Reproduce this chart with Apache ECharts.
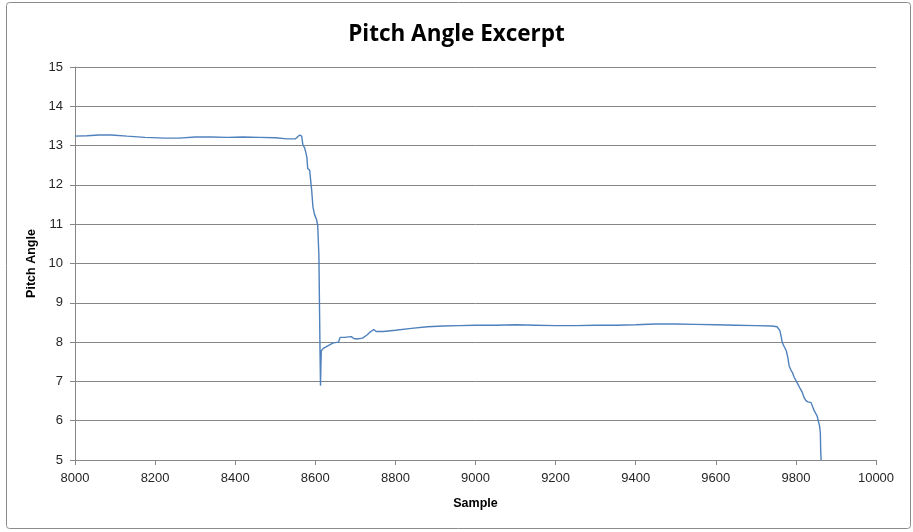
<!DOCTYPE html>
<html>
<head>
<meta charset="utf-8">
<script src="https://cdn.jsdelivr.net/npm/echarts@6/dist/echarts.min.js"></script>
<style>
  html, body { margin: 0; padding: 0; background: #fff; }
  #chart { width: 913px; height: 532px; }
</style>
</head>
<body>
<div id="chart"></div>
<script>
// Sample index along the record
const samples = [
  8000, 8030, 8060, 8090, 8130, 8175, 8225, 8260, 8300, 8340, 8380, 8420, 8460, 8500,
  8530, 8550, 8561, 8566, 8569, 8573, 8576, 8579, 8581, 8584, 8586, 8589, 8591, 8594,
  8598, 8603, 8606, 8609, 8612, 8613, 8614, 8615, 8620, 8630, 8645, 8658, 8662, 8672,
  8690, 8696, 8704, 8718, 8729, 8735, 8746, 8752, 8770, 8800, 8840, 8880, 8920, 8960,
  9000, 9050, 9100, 9150, 9200, 9250, 9300, 9350, 9400, 9450, 9500, 9550, 9600, 9650,
  9700, 9740, 9753, 9757, 9760, 9763, 9766, 9770, 9776, 9780, 9783, 9787, 9791, 9796,
  9803, 9809, 9816, 9820, 9825, 9830, 9838, 9842, 9846, 9850, 9853, 9857, 9859, 9861,
  9862, 9863
];

// Pitch angle at each sample
const pitch = [
  13.24, 13.25, 13.27, 13.27, 13.24, 13.21, 13.19, 13.19, 13.22, 13.22, 13.21, 13.22, 13.21, 13.20,
  13.17, 13.17, 13.27, 13.24, 13.02, 12.95, 12.84, 12.70, 12.42, 12.45, 12.37, 12.05, 11.86, 11.45,
  11.25, 11.12, 10.97, 10.20, 7.60, 6.89, 7.40, 7.78, 7.84, 7.90, 7.98, 8.00, 8.12, 8.12,
  8.14, 8.09, 8.08, 8.10, 8.18, 8.24, 8.32, 8.27, 8.27, 8.30, 8.35, 8.39, 8.41, 8.42,
  8.43, 8.43, 8.44, 8.43, 8.42, 8.42, 8.43, 8.43, 8.44, 8.46, 8.46, 8.45, 8.44, 8.43,
  8.42, 8.41, 8.39, 8.36, 8.29, 8.15, 7.99, 7.90, 7.78, 7.60, 7.40, 7.30, 7.23, 7.10,
  6.97, 6.85, 6.72, 6.60, 6.51, 6.48, 6.46, 6.35, 6.25, 6.20, 6.12, 5.95, 5.87, 5.70,
  5.20, 5.00
];

const chartTitle = 'Pitch Angle Excerpt';
const xName = 'Sample';
const yName = 'Pitch Angle';

const points = samples.map((s, i) => [s, pitch[i]]);

const chart = echarts.init(document.getElementById('chart'), null, { renderer: 'canvas' });

const labelFont = '"Liberation Sans", Arial, sans-serif';

chart.setOption({
  animation: false,
  backgroundColor: '#ffffff',
  title: {
    text: chartTitle,
    left: 'center',
    top: 18,
    textStyle: { fontFamily: '"Open Sans", "Liberation Sans", sans-serif', fontSize: 22.5, fontWeight: 'bold', color: '#000' }
  },
  graphic: [{
    type: 'rect',
    shape: { x: 6.5, y: 2.5, width: 904, height: 526, r: 3 },
    style: { fill: 'none', stroke: '#8c8c8c', lineWidth: 1 },
    silent: true
  }],
  grid: { left: 75, right: 37, top: 67, bottom: 72 },
  xAxis: {
    type: 'value',
    min: 8000,
    max: 10000,
    interval: 200,
    name: xName,
    nameLocation: 'middle',
    nameGap: 37,
    nameTextStyle: { fontFamily: labelFont, fontSize: 12.5, fontWeight: 'bold', color: '#000' },
    axisLine: { show: true, lineStyle: { color: '#868686', width: 1 } },
    axisTick: { show: true, length: 5, inside: false, lineStyle: { color: '#868686' } },
    axisLabel: { fontFamily: labelFont, fontSize: 13, color: '#262626', margin: 12, formatter: v => String(v) },
    splitLine: { show: false }
  },
  yAxis: {
    type: 'value',
    min: 5,
    max: 15,
    interval: 1,
    name: yName,
    nameLocation: 'middle',
    nameGap: 31,
    nameRotate: 90,
    nameTextStyle: { fontFamily: labelFont, fontSize: 12.5, fontWeight: 'bold', color: '#000' },
    axisLine: { show: true, lineStyle: { color: '#868686', width: 1 } },
    axisTick: { show: true, length: 5, inside: false, lineStyle: { color: '#868686' } },
    axisLabel: { fontFamily: labelFont, fontSize: 13, color: '#262626', margin: 12 },
    splitLine: { show: true, lineStyle: { color: '#868686', width: 1 } }
  },
  series: [{
    type: 'line',
    data: points,
    showSymbol: false,
    symbol: 'none',
    clip: true,
    lineStyle: { color: '#4f81bd', width: 1.4 }
  }]
});
</script>
</body>
</html>
